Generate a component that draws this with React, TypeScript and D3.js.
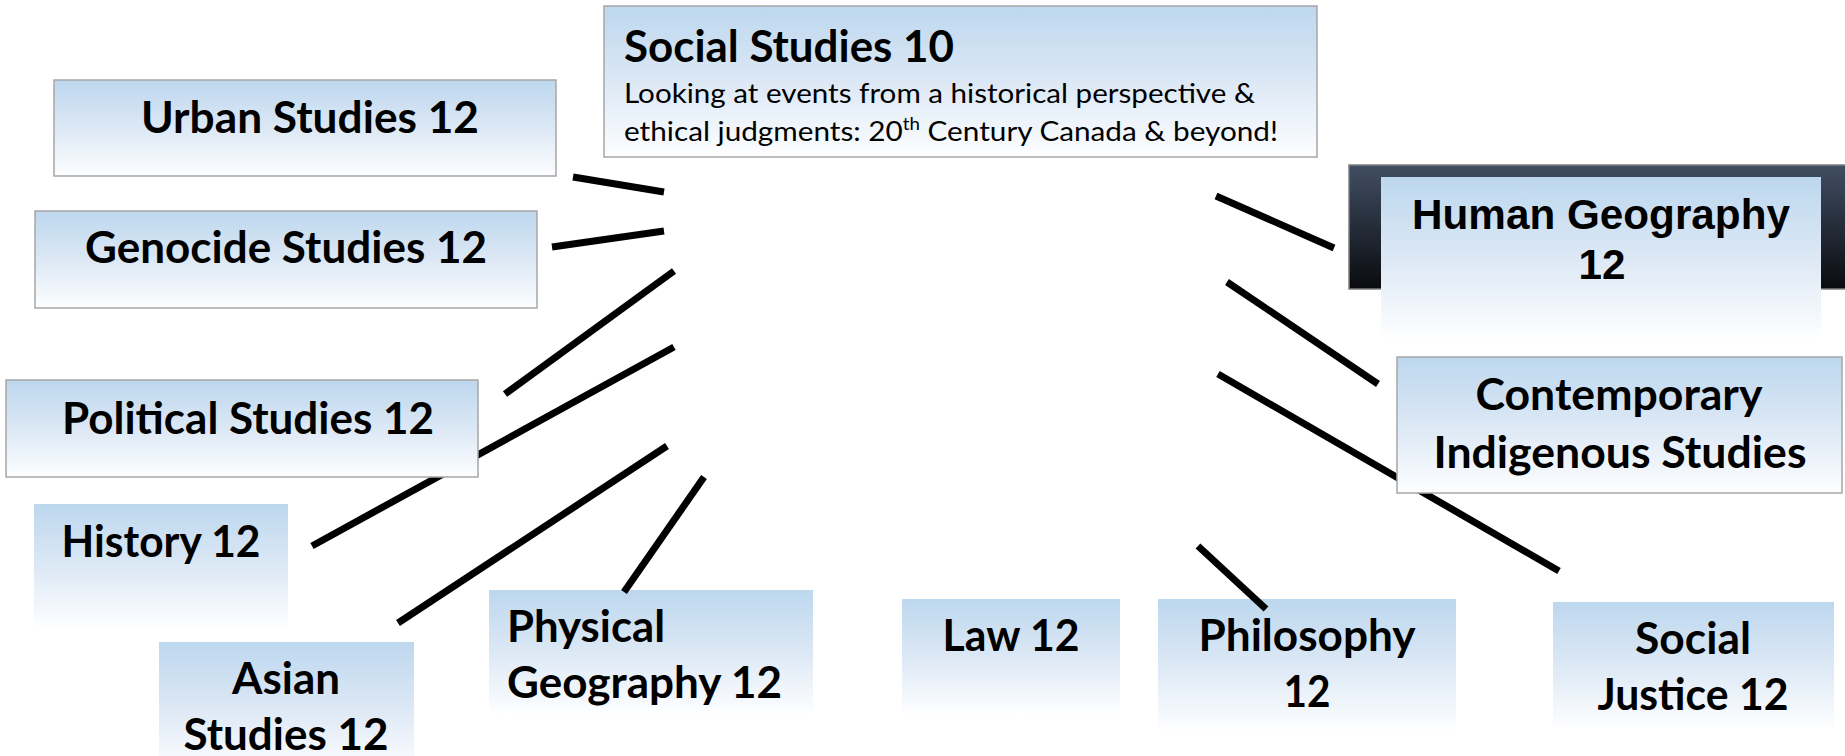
import React from 'react';
import * as d3 from 'd3';

// course labels, one array per line of text
const center = ['Social Studies 10'];
const centerNote = ['Looking at events from a historical perspective &', 'ethical judgments: 20', 'th', ' Century Canada & beyond!'];
const courses = [
  ['Urban Studies 12'],
  ['Genocide Studies 12'],
  ['Political Studies 12'],
  ['History 12'],
  ['Asian', 'Studies 12'],
  ['Physical', 'Geography 12'],
  ['Law 12'],
  ['Philosophy', '12'],
  ['Social', 'Justice 12'],
  ['Human Geography', '12'],
  ['Contemporary', 'Indigenous Studies'],
];

// box geometry (reference pixel space)
const boxes = [
  { x0: 54, y0: 80, x1: 556, y1: 176, border: true },
  { x0: 35, y0: 211, x1: 537, y1: 308, border: true },
  { x0: 6, y0: 380, x1: 478, y1: 477, border: true },
  { x0: 34, y0: 504, x1: 288, y1: 627, border: false },
  { x0: 159, y0: 642, x1: 414, y1: 772, border: false },
  { x0: 489, y0: 590, x1: 813, y1: 713, border: false },
  { x0: 902, y0: 599, x1: 1120, y1: 713, border: false },
  { x0: 1158, y0: 599, x1: 1456, y1: 730, border: false },
  { x0: 1553, y0: 602, x1: 1834, y1: 727, border: false },
  { x0: 1381, y0: 177, x1: 1821, y1: 337, border: false },
  { x0: 1397, y0: 357, x1: 1842, y1: 493, border: true },
];

// text lines per course: anchor x, baseline, width
const labelPos = [
  [{ x: 310, y: 133, w: 338 }],
  [{ x: 286, y: 263, w: 402 }],
  [{ x: 248, y: 434, w: 372 }],
  [{ x: 161, y: 557, w: 199 }],
  [{ x: 286, y: 694, w: 108 }, { x: 286, y: 750, w: 205 }],
  [{ x: 507, y: 642, w: 158, a: 'start' }, { x: 507, y: 698, w: 275, a: 'start' }],
  [{ x: 1011, y: 651, w: 137 }],
  [{ x: 1307, y: 651, w: 217 }, { x: 1307, y: 707, w: 47 }],
  [{ x: 1693, y: 654, w: 116 }, { x: 1693, y: 710, w: 191 }],
  [{ x: 1601, y: 229, w: 378 }, { x: 1602, y: 279, w: 47 }],
  [{ x: 1619, y: 410, w: 287 }, { x: 1620, y: 468, w: 373 }],
];

// connector strokes; "over" ones sit on top of the boxes
const links = [
  { x1: 573, y1: 177, x2: 664, y2: 192, over: false },
  { x1: 552, y1: 247, x2: 664, y2: 231, over: false },
  { x1: 674, y1: 271, x2: 505, y2: 394, over: false },
  { x1: 674, y1: 347, x2: 312, y2: 546, over: false },
  { x1: 667, y1: 446, x2: 398, y2: 623, over: false },
  { x1: 704, y1: 477, x2: 624, y2: 592, over: true },
  { x1: 1198, y1: 546, x2: 1266, y2: 609, over: true },
  { x1: 1216, y1: 196, x2: 1334, y2: 248, over: false },
  { x1: 1227, y1: 282, x2: 1378, y2: 384, over: false },
  { x1: 1218, y1: 374, x2: 1559, y2: 571, over: false },
];

const W = 1845;
const H = 756;
const FONT = 'Lato, "Open Sans", sans-serif';

export default function App() {
  const x = d3.scaleLinear().domain([0, 1845]).range([0, W]);
  const y = d3.scaleLinear().domain([0, 756]).range([0, H]);
  const line = d3.line<[number, number]>().x(d => x(d[0])).y(d => y(d[1]));

  const drawLink = (l, i) => (
    <path key={i} d={line([[l.x1, l.y1], [l.x2, l.y2]]) || ''} stroke="#000" strokeWidth={7} fill="none" />
  );

  return (
    <svg width={W} height={H} style={{ position: 'absolute', left: 0, top: 0, display: 'block' }}>
      <defs>
        <linearGradient id="boxFill" x1="0" y1="0" x2="0" y2="1">
          <stop offset="0" stopColor="#bdd7ee" />
          <stop offset="0.5" stopColor="#dce8f5" />
          <stop offset="1" stopColor="#fdfeff" />
        </linearGradient>
        <linearGradient id="darkFill" x1="0" y1="0" x2="0" y2="1">
          <stop offset="0" stopColor="#414e63" />
          <stop offset="1" stopColor="#090b0e" />
        </linearGradient>
      </defs>
      <rect width={W} height={H} fill="#fff" />

      {links.filter(l => !l.over).map(drawLink)}

      {/* dark panel behind Human Geography */}
      <rect x={x(1349)} y={y(165)} width={x(1850) - x(1349)} height={y(289) - y(165)}
        fill="url(#darkFill)" stroke="#7f7f7f" strokeWidth={1.5} />

      {/* Social Studies 10 */}
      <rect x={x(604)} y={y(6)} width={x(1317) - x(604)} height={y(157) - y(6)}
        fill="url(#boxFill)" stroke="#a6a6a6" strokeWidth={1.5} />
      <text x={x(624)} y={y(62)} fontFamily={FONT} fontWeight={700} fontSize={44}
        textLength={330} lengthAdjust="spacingAndGlyphs">{center[0]}</text>
      <text x={x(624)} y={y(103)} fontFamily={FONT} fontSize={27}
        textLength={631} lengthAdjust="spacingAndGlyphs">{centerNote[0]}</text>
      <text x={x(624)} y={y(141)} fontFamily={FONT} fontSize={27}
        textLength={654} lengthAdjust="spacingAndGlyphs">
        {centerNote[1]}
        <tspan fontSize={17} dy={-11}>{centerNote[2]}</tspan>
        <tspan dy={11}>{centerNote[3]}</tspan>
      </text>

      {courses.map((lines, i) => {
        const b = boxes[i];
        const isHG = lines[0] === 'Human Geography';
        return (
          <g key={i}>
            <rect x={x(b.x0)} y={y(b.y0)} width={x(b.x1) - x(b.x0)} height={y(b.y1) - y(b.y0)}
              fill="url(#boxFill)" stroke={b.border ? '#a6a6a6' : 'none'} strokeWidth={1.5} />
            {lines.map((t, j) => {
              const p = labelPos[i][j];
              return (
                <text key={j} x={x(p.x)} y={y(p.y)} textAnchor={p.a || 'middle'}
                  fontFamily={isHG ? '"Liberation Sans", Arial, sans-serif' : FONT}
                  fontWeight={700} fontSize={isHG ? 42 : 44}
                  textLength={p.w} lengthAdjust="spacingAndGlyphs">{t}</text>
              );
            })}
          </g>
        );
      })}

      {links.filter(l => l.over).map(drawLink)}
    </svg>
  );
}
